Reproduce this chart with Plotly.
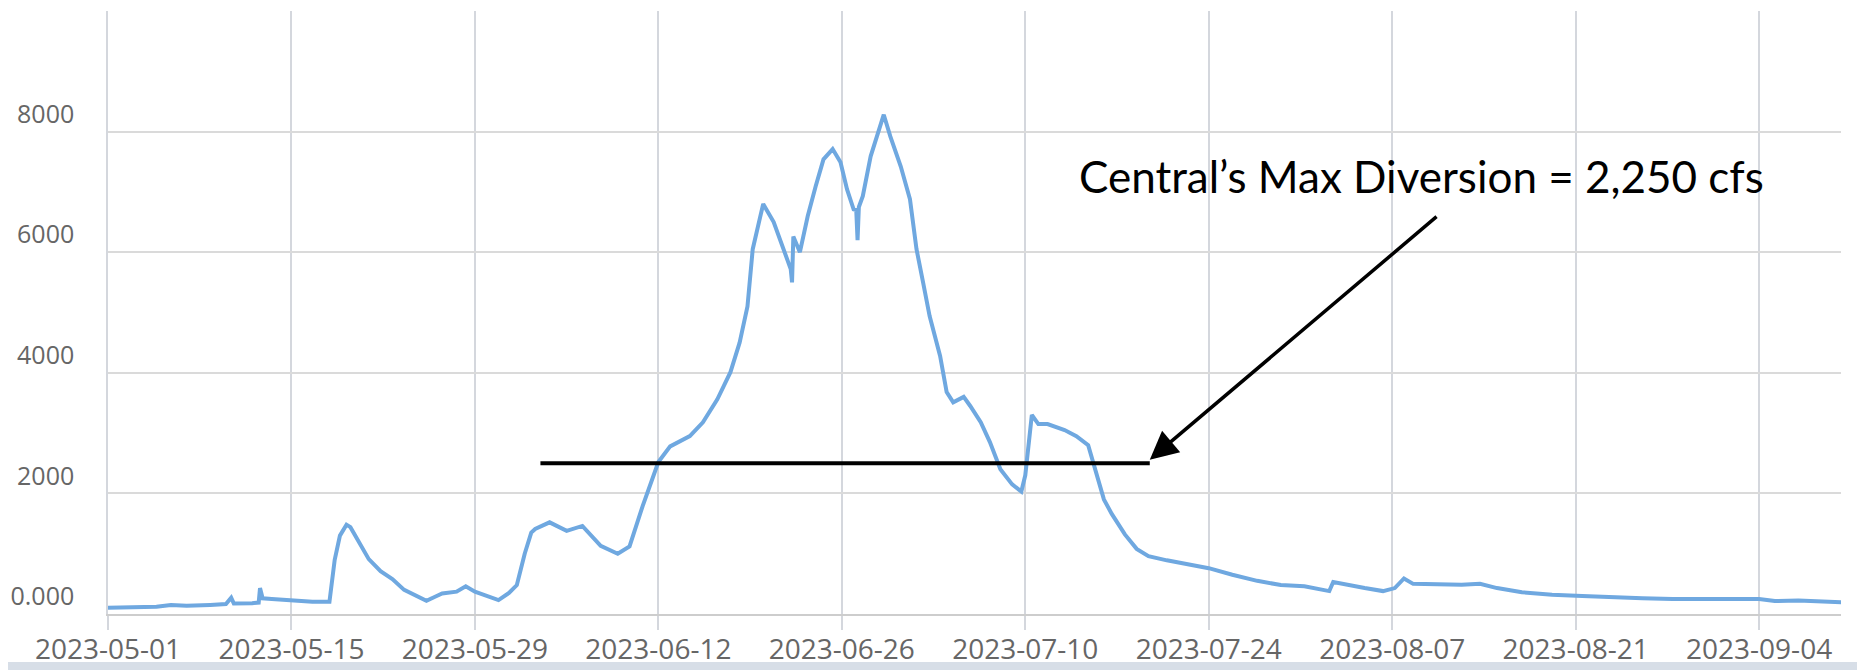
import pandas as pd
import plotly.graph_objects as go

BASE = "2023-05-01"
X_END = "2023-09-10 06:00"

# time as days since 2023-05-01, flow in cfs
days = [0.0, 2.0, 3.7, 4.8, 6.0, 7.8, 9.0, 9.4, 9.6, 11.0, 11.5, 11.6, 11.8, 12.5,
        13.8, 15.6, 16.9, 17.3, 17.7, 18.2, 18.5, 19.0, 19.9, 20.8, 21.7, 22.6,
        23.5, 24.3, 25.0, 25.5, 26.6, 27.3, 28.0, 29.0, 29.8, 30.6, 31.2, 31.8,
        32.3, 32.6, 33.7, 35.0, 36.2, 37.6, 38.9, 39.8, 40.8, 42.0, 42.9, 44.4,
        45.4, 46.5, 47.5, 48.2, 48.8, 49.2, 50.0, 50.8, 51.5, 52.1, 52.2, 52.3,
        52.8, 53.4, 54.0, 54.6, 55.3, 55.9, 56.4, 56.9, 57.1, 57.2, 57.3, 57.6,
        58.2, 59.2, 59.7, 60.5, 61.2, 61.7, 62.2, 62.7, 63.5, 64.0, 64.5, 65.3,
        65.8, 66.6, 67.3, 68.1, 69.0, 69.7, 70.0, 70.5, 71.0, 71.7, 73.0, 73.9,
        74.8, 75.3, 76.0, 76.6, 77.6, 78.5, 79.4, 80.8, 82.2, 84.0, 85.8, 87.7,
        89.5, 91.3, 93.2, 93.5, 95.9, 97.3, 98.2, 98.9, 99.6, 101.4, 103.3, 104.7,
        106.0, 107.9, 110.2, 112.5, 114.8, 117.1, 119.4, 121.7, 124.0, 126.0,
        127.2, 129.0, 132.3]
flow = [105, 110, 122, 150, 135, 150, 165, 270, 175, 180, 190, 430, 260, 250,
        232, 205, 205, 900, 1300, 1480, 1440, 1240, 910, 710, 580, 400,
        300, 220, 290, 340, 370, 460, 370, 290, 230, 350, 480, 1000,
        1350, 1410, 1520, 1380, 1460, 1130, 1000, 1120, 1790, 2520, 2780, 2950,
        3180, 3560, 4010, 4500, 5100, 6050, 6800, 6500, 6100, 5720, 5500, 6260,
        6000, 6600, 7090, 7540, 7710, 7490, 7040, 6710, 6700, 6200, 6750, 6930,
        7590, 8280, 7920, 7420, 6880, 6050, 5500, 4940, 4280, 3680, 3510, 3600,
        3450, 3180, 2850, 2400, 2150, 2030, 2300, 3300, 3150, 3150, 3050, 2950,
        2800, 2400, 1900, 1660, 1320, 1080, 960, 890, 830, 760, 650, 550,
        480, 460, 380, 530, 430, 380, 430, 590, 500, 490, 485, 500,
        430, 360, 320, 300, 275, 260, 250, 250, 265, 250,
        215, 225, 195]

x_ticks = ["2023-05-01", "2023-05-15", "2023-05-29", "2023-06-12", "2023-06-26",
           "2023-07-10", "2023-07-24", "2023-08-07", "2023-08-21", "2023-09-04"]
y_ticks = [0, 2000, 4000, 6000, 8000, 10000]
y_tick_text = ["0.000", "2000", "4000", "6000", "8000", ""]

# annotation (hand-drawn marker line and arrow), in data units
LINE_START = "2023-06-03 00:00"
LINE_END = "2023-07-19 12:00"
LINE_LEVEL = 2500
ARROW_TIP = ("2023-07-19 12:00", 2560)
ARROW_TAIL = ("2023-08-10 12:00", 6610)
NOTE = "Central’s Max Diversion = 2,250 cfs"

t = pd.to_datetime(BASE) + pd.to_timedelta(days, unit="D")

fig = go.Figure()
fig.add_trace(go.Scatter(x=t, y=flow, mode="lines",
                         line=dict(color="#6fa8e0", width=4),
                         showlegend=False, hoverinfo="x+y"))

fig.add_shape(type="line", xref="x", yref="y",
              x0=LINE_START, x1=LINE_END, y0=LINE_LEVEL, y1=LINE_LEVEL,
              line=dict(color="black", width=4))

fig.add_annotation(x=ARROW_TIP[0], y=ARROW_TIP[1], ax=ARROW_TAIL[0], ay=ARROW_TAIL[1],
                   xref="x", yref="y", axref="x", ayref="y", text="",
                   showarrow=True, arrowhead=2, arrowsize=1.6, arrowwidth=3.5,
                   arrowcolor="black", standoff=0, startstandoff=0)

fig.add_annotation(x=0.559, y=0.727, xref="paper", yref="paper",
                   xanchor="left", yanchor="middle", showarrow=False, text=NOTE,
                   font=dict(family="Lato, Open Sans, sans-serif", size=44, color="black"))

# bottom panel band of the screenshot
fig.add_shape(type="rect", xref="paper", yref="paper",
              x0=-0.07, x1=1.02, y0=-0.12, y1=-0.0796,
              fillcolor="#d7dee7", line=dict(width=0), layer="below")

fig.update_xaxes(type="date", range=[BASE, X_END], automargin=False,
                 tickvals=x_ticks, tickformat="%Y-%m-%d",
                 showgrid=True, gridcolor="#d4d7dd", gridwidth=1.5,
                 ticks="outside", ticklen=14, tickcolor="#d4d7dd", tickwidth=1.5,
                 showline=True, linecolor="#cdcdcd", linewidth=2, mirror=False,
                 ticklabelstandoff=-5,
                 tickfont=dict(family="Open Sans, sans-serif", size=28, color="#666666"),
                 zeroline=False)
fig.update_yaxes(range=[0, 10000], tickvals=y_ticks, ticktext=y_tick_text,
                 automargin=False,
                 showgrid=True, gridcolor="#dadada", gridwidth=1.5,
                 zeroline=False, showline=True, linecolor="#d4d7dd", linewidth=1.5,
                 ticks="", ticklabelposition="outside top", ticklabelstandoff=27,
                 tickfont=dict(family="Open Sans, sans-serif", size=25, color="#666666"))

# the page body adds an 8px offset, so the figure is 8px smaller than the window
fig.update_layout(width=1857, height=662,
                  margin=dict(l=100, r=24, t=3, b=56),
                  paper_bgcolor="white", plot_bgcolor="white")

fig.write_html("out.html")
